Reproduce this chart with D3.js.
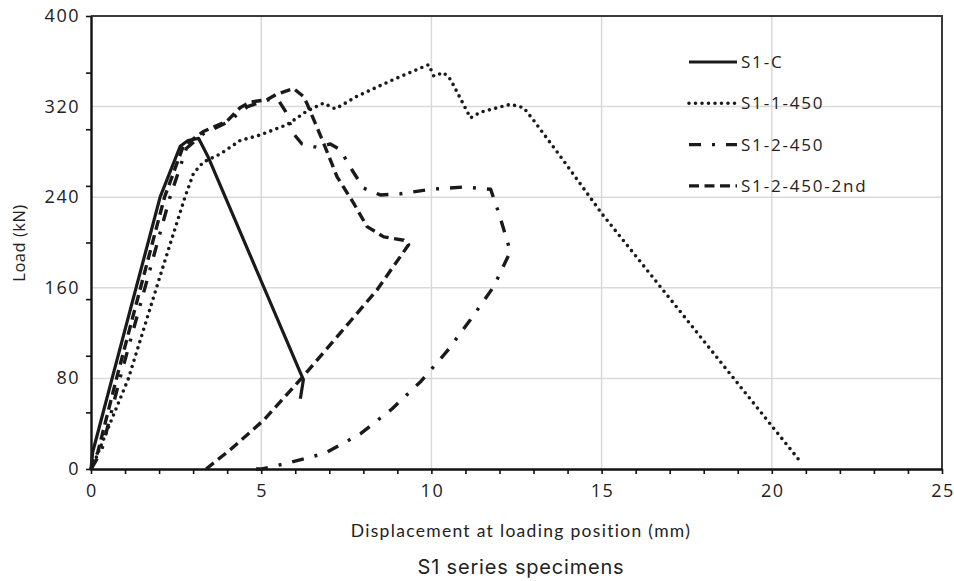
<!DOCTYPE html>
<meta charset="utf-8">
<style>
body { margin: 0; background: #fff; }
.grid line { stroke: #d9d9d9; stroke-width: 1.5px; }
.tick-label { font: 18px "Open Sans", sans-serif; fill: #222; letter-spacing: 1.5px; }
.axis-title { font: 17.5px "Lato", sans-serif; fill: #222; letter-spacing: 1.3px; }
.caption { font: 20px "Inter", sans-serif; fill: #222; letter-spacing: 0.8px; }
.legend text { font: 17px "Open Sans", sans-serif; fill: #222; letter-spacing: 1.8px; }
.series { fill: none; stroke: #1a1a1a; }
</style>
<body>
<svg width="954" height="581"></svg>
<script src="https://cdnjs.cloudflare.com/ajax/libs/d3/7.8.5/d3.min.js"></script>
<script>

// displacement (mm), load (kN)
var s1C = [[0,0],[0.05,15],[0.2,32],[0.62,80],[2.03,240],[2.62,285],[2.85,290],[3.16,292],[3.45,275],[6.15,85],[6.24,79],[6.15,62]];

var s1_1_450 = [[0,0],[0.15,10],[1.1,80],[2.13,180],[2.76,240],[3.01,261],[3.3,271],[3.79,278],[4.38,290],[4.97,295],[5.76,304],[6.34,316],[6.83,323],[7.18,318],[7.81,329],[8.89,344],[9.92,357],[10.07,347],[10.36,350],[10.56,344],[11.15,310],[11.44,315],[11.93,319],[12.32,322],[12.71,319],[13.0,308],[13.79,276],[15.02,225],[20.8,8]];

var s1_2_450 = [[0,0],[0.3,15],[0.85,80],[2.32,240],[2.8,283],[3.3,296],[4.0,306],[4.6,320],[5.2,326],[5.5,326],[5.71,316],[5.95,296],[6.2,287],[6.64,284],[7.03,287],[7.32,282],[7.71,262],[8.01,248],[8.5,242],[9.09,243],[9.97,247],[10.95,249],[11.74,247],[11.98,226],[12.32,192],[11.83,161],[11.15,132],[10.46,104],[9.68,77],[8.84,53],[7.91,31],[6.88,14],[5.75,5],[5.02,0],[4.58,0]];

var s1_2_450_2nd = [[0,0],[0.2,15],[0.75,80],[2.16,240],[2.71,285],[3.3,298],[3.99,307],[4.38,319],[4.68,324],[5.17,326],[5.46,331],[5.95,336],[6.24,329],[6.34,323],[6.83,288],[7.23,258],[7.71,235],[8.11,214],[8.6,205],[9.19,202],[9.33,198],[8.4,158],[7.32,120],[6.24,82],[5.07,43],[4.09,17],[3.38,0]];

var seriesNames = ["S1-C", "S1-1-450", "S1-2-450", "S1-2-450-2nd"];
var xTicks = [0, 5, 10, 15, 20, 25];
var yTicks = [0, 80, 160, 240, 320, 400];

var svg = d3.select("svg");
var plot = { left: 91, right: 942, top: 16, bottom: 469 };

var x = d3.scaleLinear().domain([0, 25]).range([plot.left, plot.right]);
var y = d3.scaleLinear().domain([0, 400]).range([plot.bottom, plot.top]);

// gridlines
var grid = svg.append("g").attr("class", "grid");
grid.selectAll("line.v").data(xTicks.slice(1, -1)).enter().append("line")
  .attr("x1", d => x(d)).attr("x2", d => x(d)).attr("y1", plot.top).attr("y2", plot.bottom);
grid.selectAll("line.h").data(yTicks.slice(1, -1)).enter().append("line")
  .attr("x1", plot.left).attr("x2", plot.right).attr("y1", d => y(d)).attr("y2", d => y(d));

// frame top/right
svg.append("path")
  .attr("d", "M" + plot.left + "," + plot.top + "H" + plot.right + "V" + plot.bottom)
  .attr("fill", "none").attr("stroke", "#3a3a3a").attr("stroke-width", 2);

// axes with minor ticks
var xAxis = d3.axisBottom(x).ticks(25).tickSize(5).tickSizeOuter(0).tickFormat("");
var yAxis = d3.axisLeft(y).ticks(10).tickSize(5).tickSizeOuter(0).tickFormat("");
svg.append("g").attr("transform", "translate(0," + plot.bottom + ")").call(xAxis)
  .call(g => g.selectAll("line,path").attr("stroke", "#111").attr("stroke-width", 1.6))
  .call(g => g.select(".domain").attr("stroke-width", 2.4));
svg.append("g").attr("transform", "translate(" + plot.left + ",0)").call(yAxis)
  .call(g => g.selectAll("line,path").attr("stroke", "#111").attr("stroke-width", 1.6))
  .call(g => g.select(".domain").attr("stroke-width", 2.4));

svg.selectAll("text.xl").data(xTicks).enter().append("text")
  .attr("class", "tick-label").attr("text-anchor", "middle")
  .attr("x", d => x(d) + 1).attr("y", 497).text(d => d);
svg.selectAll("text.yl").data(yTicks).enter().append("text")
  .attr("class", "tick-label").attr("text-anchor", "end")
  .attr("x", 80).attr("y", d => y(d) + 6).text(d => d);

svg.append("text").attr("class", "axis-title").attr("text-anchor", "middle")
  .attr("x", 521).attr("y", 537).text("Displacement at loading position (mm)");
svg.append("text").attr("class", "caption").attr("text-anchor", "middle")
  .attr("x", 521).attr("y", 574).text("S1 series specimens");
svg.append("text").attr("text-anchor", "middle")
  .attr("transform", "translate(25,243) rotate(-90)")
  .style("font", "16.5px 'Open Sans', sans-serif").style("fill", "#222")
  .style("letter-spacing", "0.5px")
  .text("Load (kN)");

var line = d3.line().x(d => x(d[0])).y(d => y(d[1]));
var styles = [
  { dash: null, cap: "butt", width: 3.2 },
  { dash: "0 6.5", cap: "round", width: 3.6 },
  { dash: "12 11 3 11", cap: "butt", width: 3.4 },
  { dash: "10 5.5", cap: "butt", width: 3.4 }
];
var data = [s1C, s1_1_450, s1_2_450, s1_2_450_2nd];

svg.selectAll("path.series").data(data).enter().append("path")
  .attr("class", "series")
  .attr("d", line)
  .attr("stroke-dasharray", (d, i) => styles[i].dash)
  .attr("stroke-linecap", (d, i) => styles[i].cap)
  .attr("stroke-linejoin", "round")
  .attr("stroke-width", (d, i) => styles[i].width);

// legend
var legend = svg.append("g").attr("class", "legend");
var rows = legend.selectAll("g").data(seriesNames).enter().append("g")
  .attr("transform", (d, i) => "translate(689," + (62 + i * 41.3) + ")");
rows.append("line").attr("class", "series")
  .attr("x1", 0).attr("x2", 48).attr("y1", 0).attr("y2", 0)
  .attr("stroke-dasharray", (d, i) => styles[i].dash)
  .attr("stroke-linecap", (d, i) => styles[i].cap)
  .attr("stroke-width", (d, i) => styles[i].width);
rows.append("text").attr("x", 52).attr("y", 6).text(d => d);

</script>
